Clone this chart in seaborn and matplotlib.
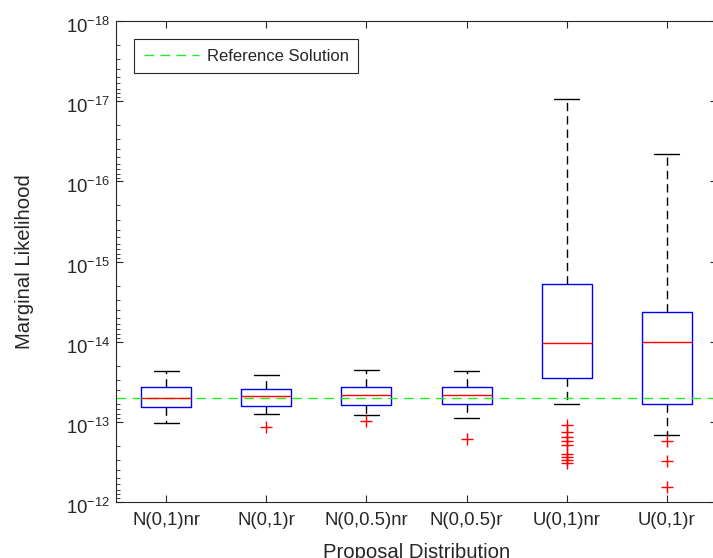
import numpy as np
import pandas as pd
import matplotlib
matplotlib.use("Agg")
import matplotlib.pyplot as plt
import seaborn as sns
from matplotlib.ticker import LogLocator, NullFormatter
from matplotlib.transforms import ScaledTranslation

# ---- data ----
categories = ["N(0,1)nr", "N(0,1)r", "N(0,0.5)nr", "N(0,0.5)r", "U(0,1)nr", "U(0,1)r"]
whisker_low = [2.30e-14, 2.58e-14, 2.25e-14, 2.30e-14, 9.5e-18, 4.56e-17]
quartile_1 = [3.67e-14, 3.89e-14, 3.67e-14, 3.67e-14, 1.89e-15, 4.31e-15]
medians = [5.05e-14, 4.77e-14, 4.58e-14, 4.58e-14, 1.04e-14, 1.01e-14]
quartile_3 = [6.53e-14, 6.34e-14, 6.17e-14, 5.94e-14, 2.81e-14, 6.04e-14]
whisker_high = [1.03e-13, 7.98e-14, 8.22e-14, 9.04e-14, 6.04e-14, 1.46e-13]
outliers = [
    [],
    [1.15e-13],
    [9.75e-14],
    [1.62e-13],
    [1.11e-13, 1.34e-13, 1.55e-13, 1.73e-13, 1.95e-13, 2.55e-13, 2.75e-13, 2.99e-13, 3.26e-13],
    [1.72e-13, 3.05e-13, 6.44e-13],
]
reference_solution = 5.05e-14

# ---- tables for seaborn ----
box_rows = []
for i, c in enumerate(categories):
    for v in (whisker_low[i], quartile_1[i], medians[i], quartile_3[i], whisker_high[i]):
        box_rows.append({"Proposal": c, "value": v})
df_box = pd.DataFrame(box_rows)
df_out = pd.DataFrame([{"Proposal": c, "value": v}
                       for c, vals in zip(categories, outliers) for v in vals])

sns.set_style("ticks")
plt.rcParams["font.family"] = ["Liberation Sans", "DejaVu Sans"]
plt.rcParams["mathtext.default"] = "regular"
plt.rcParams["axes.edgecolor"] = "#262626"
plt.rcParams["xtick.color"] = "#262626"
plt.rcParams["ytick.color"] = "#262626"
plt.rcParams["text.color"] = "#262626"
plt.rcParams["axes.labelcolor"] = "#262626"

fig = plt.figure(figsize=(7.13, 5.58), dpi=100)
ax = fig.add_axes([116 / 713, 56 / 558, 601 / 713, 481 / 558])

sns.boxplot(
    data=df_box, x="Proposal", y="value", order=categories, ax=ax,
    whis=(0, 100), fill=False, width=0.5, showfliers=False, log_scale=True,
    boxprops={"color": "blue", "linewidth": 1.0},
    medianprops={"color": "red", "linewidth": 1.0},
    whiskerprops={"color": "black", "linewidth": 1.0, "linestyle": (0, (6, 3.6))},
    capprops={"color": "black", "linewidth": 1.0},
)
sns.stripplot(
    data=df_out, x="Proposal", y="value", order=categories, ax=ax,
    jitter=False, marker="+", color="red", size=9, linewidth=1.0, log_scale=True,
)

ax.axhline(reference_solution, color="#22ee22", lw=1.0, ls=(0, (7, 4.5)),
           label="Reference Solution")

ax.set_yscale("log")
ax.set_ylim(1e-12, 1e-18)
ax.set_xlim(-0.5, 5.5)
ax.yaxis.set_major_locator(LogLocator(base=10, numticks=20))
ax.yaxis.set_minor_locator(LogLocator(base=10, subs=np.arange(2, 10), numticks=20))
ax.yaxis.set_minor_formatter(NullFormatter())

ax.tick_params(axis="both", which="both", direction="in", top=True, right=True)
ax.tick_params(axis="both", which="major", length=5, width=0.8, labelsize=13.3)
ax.tick_params(axis="y", which="minor", length=3, width=0.6)
ax.tick_params(axis="x", which="major", pad=7)
ax.tick_params(axis="y", which="major", pad=4)
for s in ax.spines.values():
    s.set_linewidth(0.8)

ax.set_xlabel("Proposal Distribution", fontsize=14.6, labelpad=10)
ax.set_ylabel("Marginal Likelihood", fontsize=14.6, labelpad=23)

leg = ax.legend(loc="upper left", fontsize=12, fancybox=False, framealpha=1,
                edgecolor="#262626", handlelength=3.3, handletextpad=0.5,
                borderaxespad=1.1, borderpad=0.55)
leg.get_frame().set_linewidth(0.8)

# nudge y tick labels slightly downward, as in the reference
fig.canvas.draw()
offset = ScaledTranslation(0, -4 / 100, fig.dpi_scale_trans)
for t in ax.yaxis.get_major_ticks():
    t.label1.set_transform(t.label1.get_transform() + offset)

fig.savefig("out.png", dpi=100)
